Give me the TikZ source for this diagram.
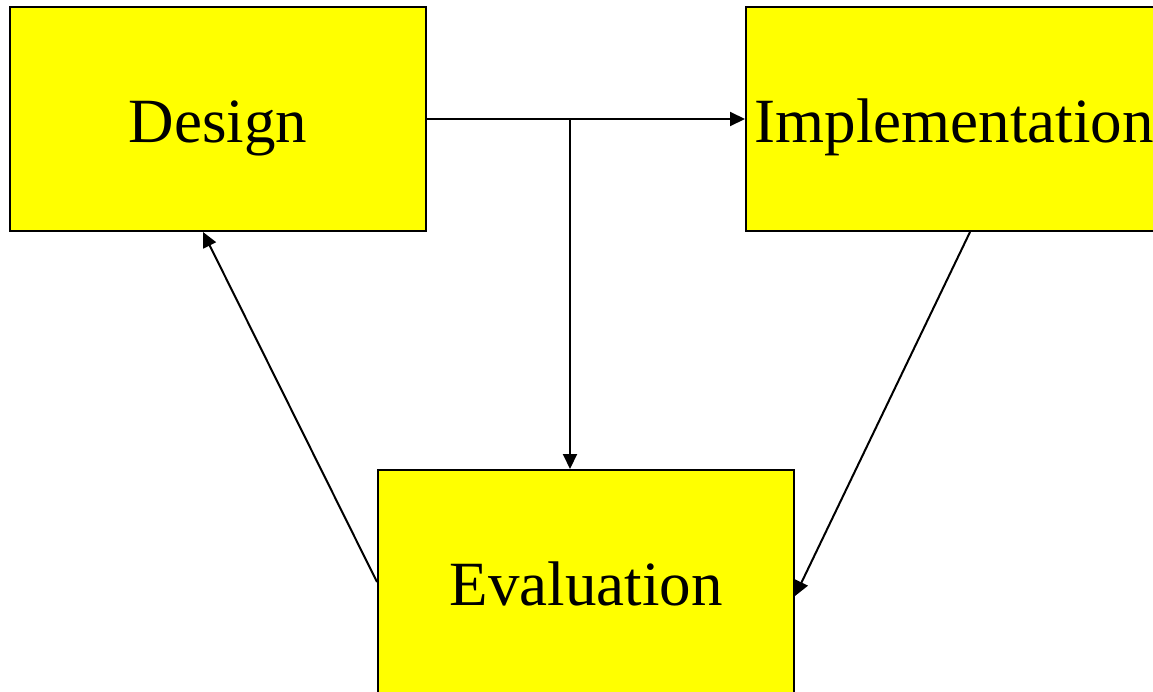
\documentclass[tikz,border=0pt]{standalone}
\usepackage{fontspec}
\setmainfont{Liberation Serif}
\usetikzlibrary{arrows.meta}
\definecolor{boxyellow}{RGB}{255,255,0}
\begin{document}
\begin{tikzpicture}[x=1pt,y=-1pt,
  box/.style={draw=black,line width=2pt,fill=boxyellow,minimum width=416pt,minimum height=224pt,
    inner sep=0pt,text height=46pt,text depth=0pt,font=\fontsize{63}{70}\selectfont},
  conn/.style={line width=2pt,-{Triangle[length=15pt,width=14pt]}}]
\useasboundingbox (0,0) rectangle (1153,691);
\clip (0,0) rectangle (1153,691);
\fill[white] (0,0) rectangle (1153,691);
\node[box] (design) at (218,119) {Design};
\node[box] (impl) at (954,119) {Implementation};
\node[box] (eval) at (586,582) {Evaluation};
\coordinate (branch) at (570,119);
\draw[conn] (design.east) -- (impl.west);
\draw[conn] (branch) -- (branch |- eval.north);
\draw[conn] ([xshift=16pt]impl.south) -- ([yshift=-14pt]eval.east);
\draw[conn] (eval.west) -- ([xshift=-15pt]design.south);
\end{tikzpicture}
\end{document}
